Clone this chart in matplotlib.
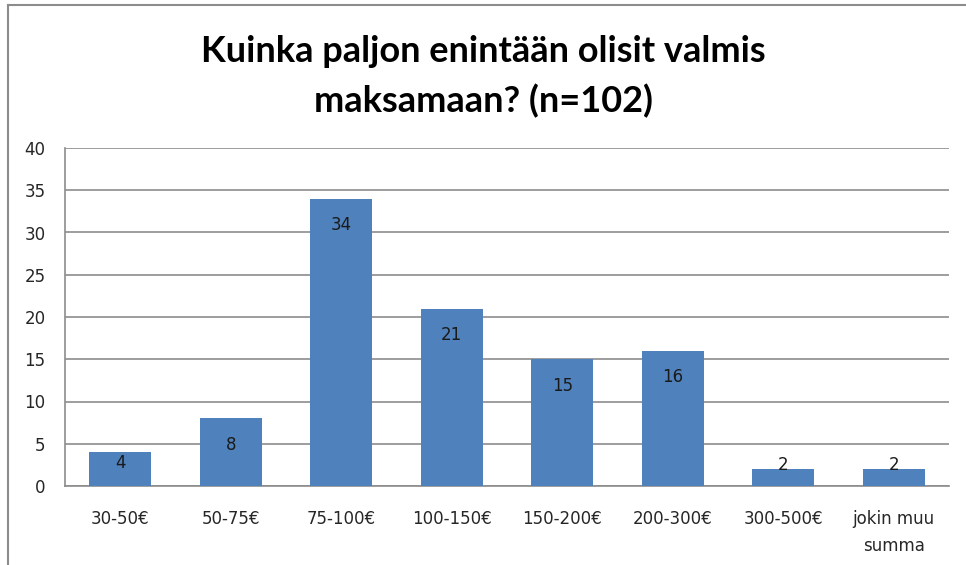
import matplotlib
matplotlib.use("Agg")
import matplotlib.pyplot as plt
from matplotlib.lines import Line2D

categories = ["30-50€", "50-75€", "75-100€", "100-150€", "150-200€", "200-300€", "300-500€", "jokin muu\nsumma"]
values = [4, 8, 34, 21, 15, 16, 2, 2]
yticks = [0, 5, 10, 15, 20, 25, 30, 35, 40]
title = "Kuinka paljon enintään olisit valmis\nmaksamaan? (n=102)"

plt.rcParams['font.family'] = ['DejaVu Sans']

fig = plt.figure(figsize=(9.66, 5.65), dpi=100)
ax = fig.add_axes([65/966, 79/565, (949-65)/966, (486-148)/565])

x = list(range(len(categories)))
bars = ax.bar(x, values, width=0.56, color="#4F81BD", zorder=3)
ax.set_xlim(-0.5, len(categories) - 0.5)
ax.set_ylim(0, 40)
ax.set_yticks(yticks)
ax.set_xticks(x)
ax.set_xticklabels(categories, fontsize=12, color="#262626", linespacing=1.65)
ax.tick_params(axis='y', length=0, pad=14, labelsize=12, labelcolor="#262626")
ax.tick_params(axis='x', length=0, pad=17)

ax.grid(axis='y', color="#8C8C8C", linewidth=1.2, zorder=0)
for s in ['top', 'right']:
    ax.spines[s].set_visible(False)
for s in ['left', 'bottom']:
    ax.spines[s].set_color("#8C8C8C")
    ax.spines[s].set_linewidth(1.2)

for xi, v in zip(x, values):
    if v >= 8:
        off = -19
    elif v >= 4:
        off = -8
    else:
        off = 3
    ax.annotate(str(v), (xi, v), xytext=(0, off), textcoords='offset points',
                ha='center', va='center', fontsize=12, color="#1a1a1a", zorder=4)

fig.text(0.5, 1 - 77/565, title, ha='center', va='center', fontsize=26,
         fontweight='bold', color="black", linespacing=1.55, family=['Lato', 'DejaVu Sans'])

# outer chart border (left and top)
fig.add_artist(Line2D([8/966, 8/966], [0, 1 - 5/565], transform=fig.transFigure, color="#8C8C8C", lw=1.5))
fig.add_artist(Line2D([8/966, 1], [1 - 5/565, 1 - 5/565], transform=fig.transFigure, color="#8C8C8C", lw=1.5))

fig.savefig("out.png", dpi=100)
